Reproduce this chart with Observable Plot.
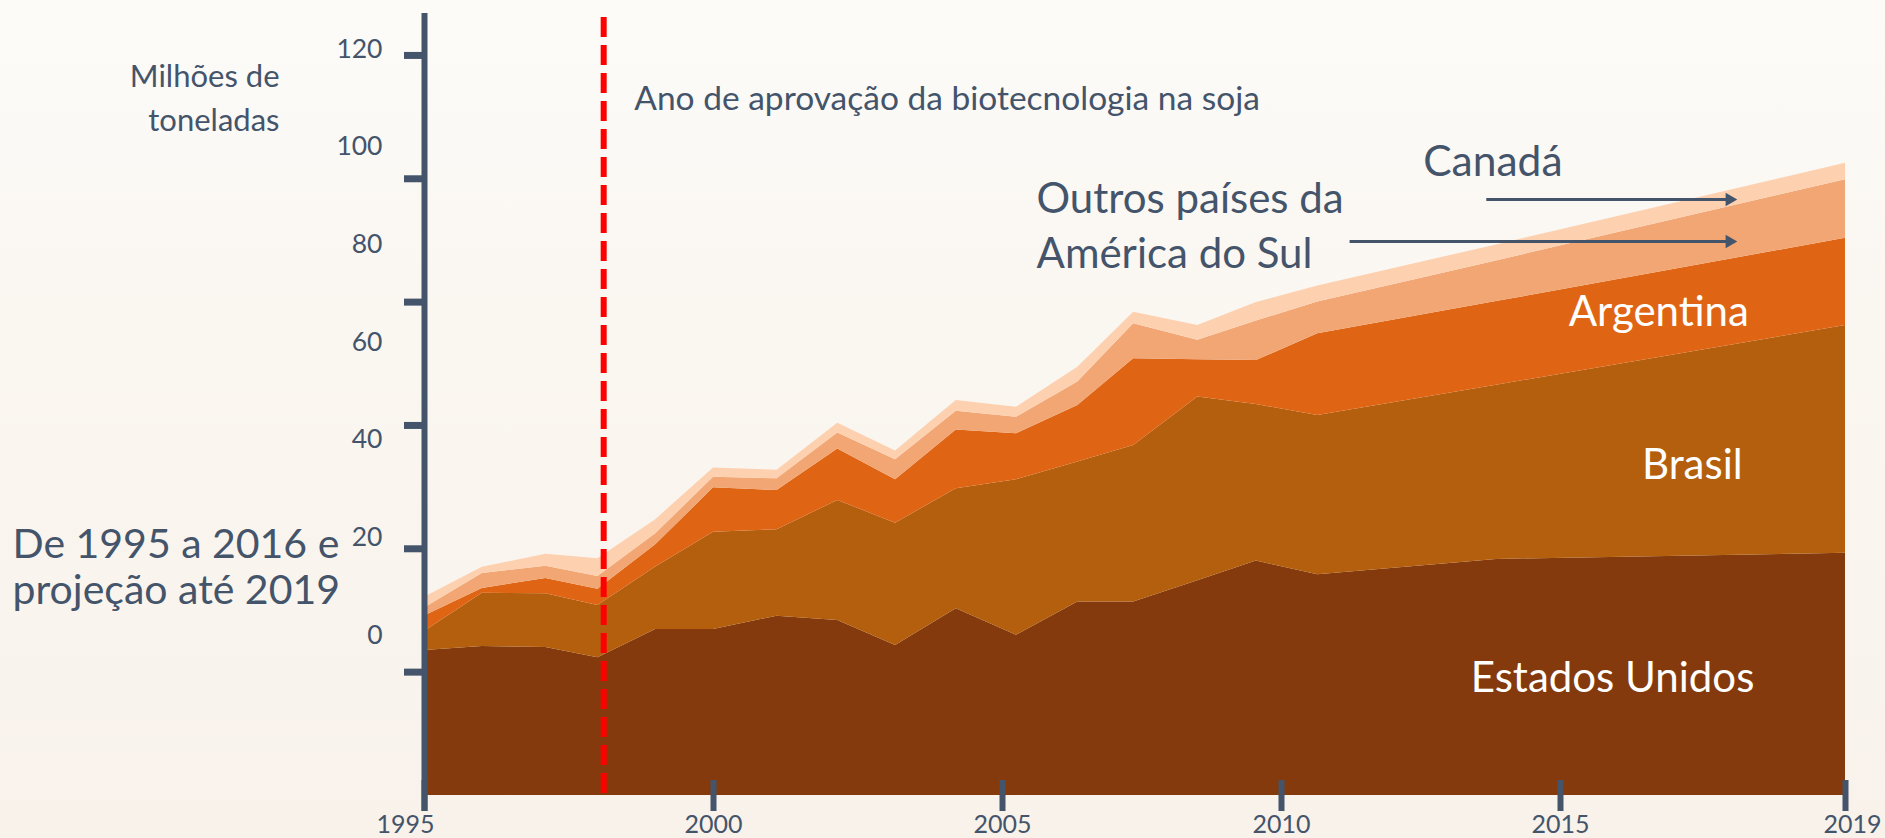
<!DOCTYPE html>
<html>
<head>
<meta charset="utf-8">
<script src="https://cdn.jsdelivr.net/npm/d3@7"></script>
<script src="https://cdn.jsdelivr.net/npm/@observablehq/plot@0.6"></script>
<style>
  html, body { margin: 0; padding: 0; }
  body {
    width: 1885px; height: 838px; overflow: hidden;
    background: linear-gradient(180deg, #fcfbf8 0%, #faf6f0 45%, #f8f2eb 100%);
    font-family: Lato, "Open Sans", sans-serif;
  }
  #chart svg { display: block; }
</style>
</head>
<body>
<div id="chart"></div>
<script>
// ---- Data (millions of tonnes) ----
const countries = ["Estados Unidos", "Brasil", "Argentina", "Outros países da América do Sul", "Canadá"];
const countryColors = ["#843a0c", "#b45f0e", "#df6514", "#f2a674", "#fdd1b0"];

// x positions of the vertices, read against the year axis
const years = [1995, 1996, 1997.1, 1998, 1999, 2000, 2001.1, 2002.15, 2003.15, 2004.2,
               2005.25, 2006.35, 2007.35, 2008.5, 2009.55, 2010.65, 2013.85, 2019];

const estadosUnidos = [58.8, 60.4, 60.0, 55.8, 67.3, 67.3, 72.7, 70.9, 60.8, 75.7,
                       64.9, 78.4, 78.4, 87.0, 95.0, 89.5, 95.7, 98.2];
const brasil        = [7.7, 21.6, 21.8, 21.2, 25.3, 39.4, 35.0, 48.7, 49.6, 48.6,
                       63.1, 56.8, 63.5, 74.5, 63.5, 64.5, 70.6, 92.3];
const argentina     = [6.3, 1.9, 6.2, 6.6, 9.0, 18.0, 15.9, 20.9, 17.6, 23.9,
                       18.6, 22.9, 35.1, 15.1, 17.8, 33.2, 33.9, 35.4];
const outrosAmSul   = [3.2, 6.1, 4.9, 5.2, 4.5, 4.3, 4.8, 6.4, 8.1, 7.6,
                       6.7, 9.5, 14.2, 7.9, 16.0, 12.8, 16.5, 23.7];
const canada        = [4.4, 2.5, 4.9, 7.2, 5.7, 3.8, 3.4, 4.0, 3.5, 4.3,
                       4.1, 6.0, 4.7, 6.0, 7.5, 6.5, 6.5, 6.7];
const seriesValues = [estadosUnidos, brasil, argentina, outrosAmSul, canada];

const xTickYears = [1995, 2000, 2005, 2010, 2015, 2019];
const yTickMarks = [50, 100, 150, 200, 250, 300];
const yTickLabels = [0, 20, 40, 60, 80, 100, 120];
const approvalYear = 1998.1;

const rows = countries.flatMap((c, i) =>
  years.map((yr, j) => ({year: yr, country: c, value: seriesValues[i][j]})));

// ---- Styling ----
const ink = "#44546a";
const font = "Lato, 'Open Sans', sans-serif";
// the printed labels sit on their own spacing along the value axis
const labelPos = v => 65 + 1.98 * v;

const chart = Plot.plot({
  width: 1885,
  height: 838,
  marginLeft: 424,
  marginRight: 40,
  marginTop: 13,
  marginBottom: 27,
  style: {background: "transparent", fontFamily: font, overflow: "visible"},
  x: {type: "linear", domain: [1995, 2005, 2015, 2019], range: [424, 1002, 1560, 1845]},
  y: {domain: [-6.5, 317]},
  color: {domain: countries, range: countryColors},
  marks: [
    Plot.areaY(rows, {x: "year", y: "value", fill: "country", order: countries, curve: "linear"}),
    // approval year
    Plot.ruleX([approvalYear], {y1: 315.4, y2: 0, stroke: "#ff0000", strokeWidth: 6, strokeDasharray: "20,8"}),
    // y axis line & ticks
    Plot.ruleX([1995], {stroke: ink, strokeWidth: 6}),
    Plot.axisY(yTickMarks, {anchor: "left", tickSize: 20, strokeWidth: 7, color: ink, tickFormat: () => ""}),
    Plot.text(yTickLabels, {x: 1995, y: labelPos, text: d => String(d), textAnchor: "end", dx: -42,
      fontSize: 26.5, fill: ink}),
    // x axis ticks (pointing up into the plot)
    Plot.axisX(xTickYears, {anchor: "bottom", tickSize: -31, strokeWidth: 6, color: ink, tickFormat: () => ""}),
    Plot.axisX([1995], {anchor: "bottom", tickSize: 0, tickPadding: 4, dx: -19, fontSize: 25, color: ink, tickFormat: d => String(d)}),
    Plot.axisX(xTickYears.slice(1, -1), {anchor: "bottom", tickSize: 0, tickPadding: 4, fontSize: 25, color: ink, tickFormat: d => String(d)}),
    Plot.axisX([2019], {anchor: "bottom", tickSize: 0, tickPadding: 4, dx: 7, fontSize: 25, color: ink, tickFormat: d => String(d)}),
    // unit label
    Plot.text(["Milhões de\ntoneladas"], {x: 1995, y: 284.0, dx: -145, text: d => d, textAnchor: "end",
      lineHeight: 1.43, fontSize: 31, fill: ink}),
    // period label
    Plot.text(["De 1995 a 2016 e\nprojeção até 2019"], {x: 1995, y: 92.8, dx: -412, text: d => d, textAnchor: "start",
      lineHeight: 1.11, fontSize: 41, fill: ink}),
    // approval label
    Plot.text(["Ano de aprovação da biotecnologia na soja"], {x: 1998.63, y: 282.4, text: d => d, textAnchor: "start",
      fontSize: 33.5, fill: ink}),
    // series labels
    Plot.text(["Canadá"], {x: 2012.54, y: 256.6, text: d => d, textAnchor: "start", fontSize: 42.5, fill: ink}),
    Plot.text(["Outros países da\nAmérica do Sul"], {x: 2005.61, y: 232.1, text: d => d, textAnchor: "start",
      lineHeight: 1.32, fontSize: 42, fill: ink}),
    Plot.text(["Argentina"], {x: 2016.38, y: 195.8, text: d => d, fontSize: 42, fill: "white"}),
    Plot.text(["Brasil"], {x: 2016.85, y: 133.8, text: d => d, fontSize: 42, fill: "white"}),
    Plot.text(["Estados Unidos"], {x: 2015.73, y: 47.4, text: d => d, fontSize: 42, fill: "white"}),
    // arrows
    Plot.link([{x1: 2013.67, x2: 2017.4, y: 241.6}, {x1: 2011.22, x2: 2017.4, y: 224.6}],
      {x1: "x1", x2: "x2", y1: "y", y2: "y", stroke: ink, strokeWidth: 3}),
    Plot.dot([{x: 2017.47, y: 241.6}, {x: 2017.47, y: 224.6}],
      {x: "x", y: "y", symbol: "triangle", rotate: 90, r: 5, dx: -7, fill: ink, stroke: "none"})
  ]
});
document.getElementById("chart").appendChild(chart);
</script>
</body>
</html>
